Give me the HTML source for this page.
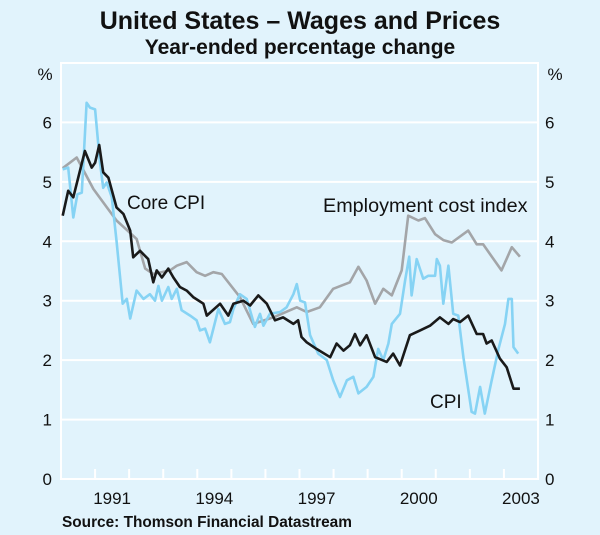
<!DOCTYPE html>
<html><head><meta charset="utf-8"><style>
body{margin:0;background:#e1f3fc;}
svg{display:block;font-family:"Liberation Sans",Arial,sans-serif;}
</style></head><body>
<svg id="chart" width="600" height="535" viewBox="0 0 600 535">
<rect width="600" height="535" fill="#e1f3fc"/>
<text x="300" y="29" text-anchor="middle" font-size="25" font-weight="bold" fill="#111">United States – Wages and Prices</text>
<text x="300" y="54" text-anchor="middle" font-size="21" font-weight="bold" fill="#111">Year-ended percentage change</text>
<text x="45" y="80" text-anchor="middle" font-size="17" fill="#111">%</text>
<text x="555" y="80" text-anchor="middle" font-size="17" fill="#111">%</text>
<g id="grid"></g><g id="series"></g><g id="labels"></g>
<text x="127" y="209" font-size="19" fill="#111">Core CPI</text>
<text x="323" y="212" font-size="19.8" fill="#111">Employment cost index</text>
<text x="430" y="408" font-size="19" fill="#111">CPI</text>
<text x="62" y="527" font-size="15.4" font-weight="bold" fill="#111">Source: Thomson Financial Datastream</text>
</svg>
<script>
const yTicks=[0,1,2,3,4,5,6];
const yearLabels=["1991","1994","1997","2000","2003"];
const yearLabelPos=[1991,1994,1997,2000,2003];
const eciT=[1990.05,1990.46,1990.95,1991.63,1992.22,1992.47,1992.71,1993.2,1993.4,1993.69,1993.98,1994.23,1994.47,1994.72,1995.25,1995.64,1996.23,1996.92,1997.21,1997.6,1997.99,1998.48,1998.73,1998.97,1999.22,1999.46,1999.71,2000.0,2000.19,2000.49,2000.68,2000.98,2001.22,2001.47,2001.95,2002.2,2002.39,2002.93,2003.23,2003.47];
const eciV=[5.23,5.41,4.88,4.35,4.04,3.54,3.45,3.51,3.59,3.65,3.48,3.42,3.48,3.45,3.06,2.61,2.72,2.89,2.81,2.89,3.2,3.31,3.57,3.34,2.95,3.2,3.09,3.51,4.43,4.35,4.39,4.12,4.02,3.98,4.18,3.95,3.95,3.51,3.9,3.74];
const coreT=[1990.05,1990.21,1990.36,1990.7,1990.9,1991.0,1991.12,1991.24,1991.39,1991.63,1991.83,1992.03,1992.12,1992.32,1992.56,1992.71,1992.81,1992.96,1993.15,1993.3,1993.49,1993.69,1993.88,1994.18,1994.28,1994.67,1994.91,1995.06,1995.35,1995.55,1995.79,1996.04,1996.28,1996.52,1996.82,1996.96,1997.06,1997.21,1997.5,1997.9,1998.09,1998.29,1998.48,1998.63,1998.78,1998.97,1999.22,1999.56,1999.75,1999.95,2000.24,2000.54,2000.83,2001.12,2001.37,2001.51,2001.71,2001.95,2002.2,2002.39,2002.49,2002.64,2002.88,2003.08,2003.28,2003.47];
const coreV=[4.43,4.85,4.74,5.52,5.24,5.32,5.62,5.16,5.07,4.57,4.46,4.18,3.73,3.84,3.70,3.31,3.51,3.39,3.54,3.39,3.23,3.17,3.06,2.95,2.75,2.95,2.75,2.95,3.0,2.92,3.09,2.95,2.67,2.72,2.61,2.67,2.39,2.3,2.19,2.05,2.28,2.16,2.25,2.44,2.25,2.42,2.05,1.97,2.11,1.91,2.42,2.5,2.58,2.72,2.61,2.69,2.64,2.75,2.44,2.44,2.28,2.33,2.03,1.88,1.52,1.52];
const cpiT=[1990.05,1990.21,1990.36,1990.48,1990.61,1990.75,1990.85,1991.0,1991.14,1991.24,1991.34,1991.49,1991.63,1991.81,1991.93,1992.03,1992.22,1992.42,1992.61,1992.76,1992.86,1992.96,1993.15,1993.25,1993.4,1993.54,1993.79,1993.98,1994.08,1994.23,1994.37,1994.62,1994.81,1994.96,1995.06,1995.25,1995.45,1995.69,1995.84,1995.94,1996.13,1996.43,1996.62,1996.82,1996.92,1997.02,1997.16,1997.31,1997.55,1997.8,1997.99,1998.19,1998.39,1998.58,1998.73,1998.97,1999.17,1999.31,1999.46,1999.61,1999.71,1999.95,2000.1,2000.22,2000.29,2000.44,2000.63,2000.78,2000.98,2001.03,2001.12,2001.22,2001.37,2001.51,2001.66,2001.81,2002.05,2002.15,2002.3,2002.44,2002.64,2002.84,2003.03,2003.13,2003.23,2003.28,2003.42];
const cpiV=[5.21,5.24,4.40,4.79,4.82,6.33,6.25,6.22,5.35,4.9,4.99,4.74,4.01,2.95,3.03,2.7,3.17,3.03,3.11,3.0,3.25,3.0,3.23,3.03,3.2,2.84,2.75,2.67,2.5,2.53,2.30,2.86,2.61,2.64,2.86,3.11,3.03,2.56,2.78,2.58,2.78,2.81,2.89,3.11,3.28,3.0,2.97,2.42,2.11,2.0,1.66,1.38,1.66,1.72,1.44,1.55,1.72,2.19,2.0,2.28,2.61,2.78,3.34,3.74,3.09,3.70,3.37,3.42,3.42,3.7,3.59,2.95,3.59,2.78,2.75,2.05,1.13,1.10,1.55,1.10,1.66,2.19,2.61,3.03,3.03,2.22,2.11];

const L=61,R=538,T=63,B=479,t0=1990,t1=2004,vMax=7;
const X=t=>L+(t-t0)/(t1-t0)*(R-L);
const Y=v=>B-v/vMax*(B-T);
const NS="http://www.w3.org/2000/svg";
function mk(tag,attrs,parent){const e=document.createElementNS(NS,tag);for(const k in attrs)e.setAttribute(k,attrs[k]);parent.appendChild(e);return e;}
const grid=document.getElementById('grid'),ser=document.getElementById('series'),lab=document.getElementById('labels');
const frame=mk('rect',{x:L,y:T,width:R-L,height:B-T,fill:'none',stroke:'#fff','stroke-width':2},grid);


yTicks.forEach(v=>{
  const g=mk('line',{x1:L,x2:R,y1:Y(v),y2:Y(v),stroke:'#fff','stroke-width':2},grid);
  
  
  const a=mk('text',{x:L-9,y:Y(v)+6,'text-anchor':'end','font-size':17,fill:'#111'},lab);a.textContent=v;
  
  
  const b=mk('text',{x:R+7,y:Y(v)+6,'text-anchor':'start','font-size':17,fill:'#111'},lab);b.textContent=v;
  
  
});
for(let yr=t0+1;yr<t1;yr++){
  const tk=mk('line',{x1:X(yr),x2:X(yr),y1:B,y2:B-10,stroke:'#fff','stroke-width':2},grid);
  
  
}
yearLabels.forEach((s,i)=>{
  const t=mk('text',{x:X(yearLabelPos[i]+0.5),y:B+25,'text-anchor':'middle','font-size':17,fill:'#111'},lab);t.textContent=s;
  
  
});
function line(ts,vs,color,name){
  const d=ts.map((t,i)=>(i?'L':'M')+X(t).toFixed(1)+','+Y(vs[i]).toFixed(1)).join('');
  const p=mk('path',{d:d,fill:'none',stroke:color,'stroke-width':2.6,'stroke-linejoin':'round'},ser);
  
  
}
line(eciT,eciV,'#a3a5a8','eci-line');
line(cpiT,cpiV,'#86d3f4','cpi-line');
line(coreT,coreV,'#1a1a1a','core-cpi-line');
</script>
</body></html>
